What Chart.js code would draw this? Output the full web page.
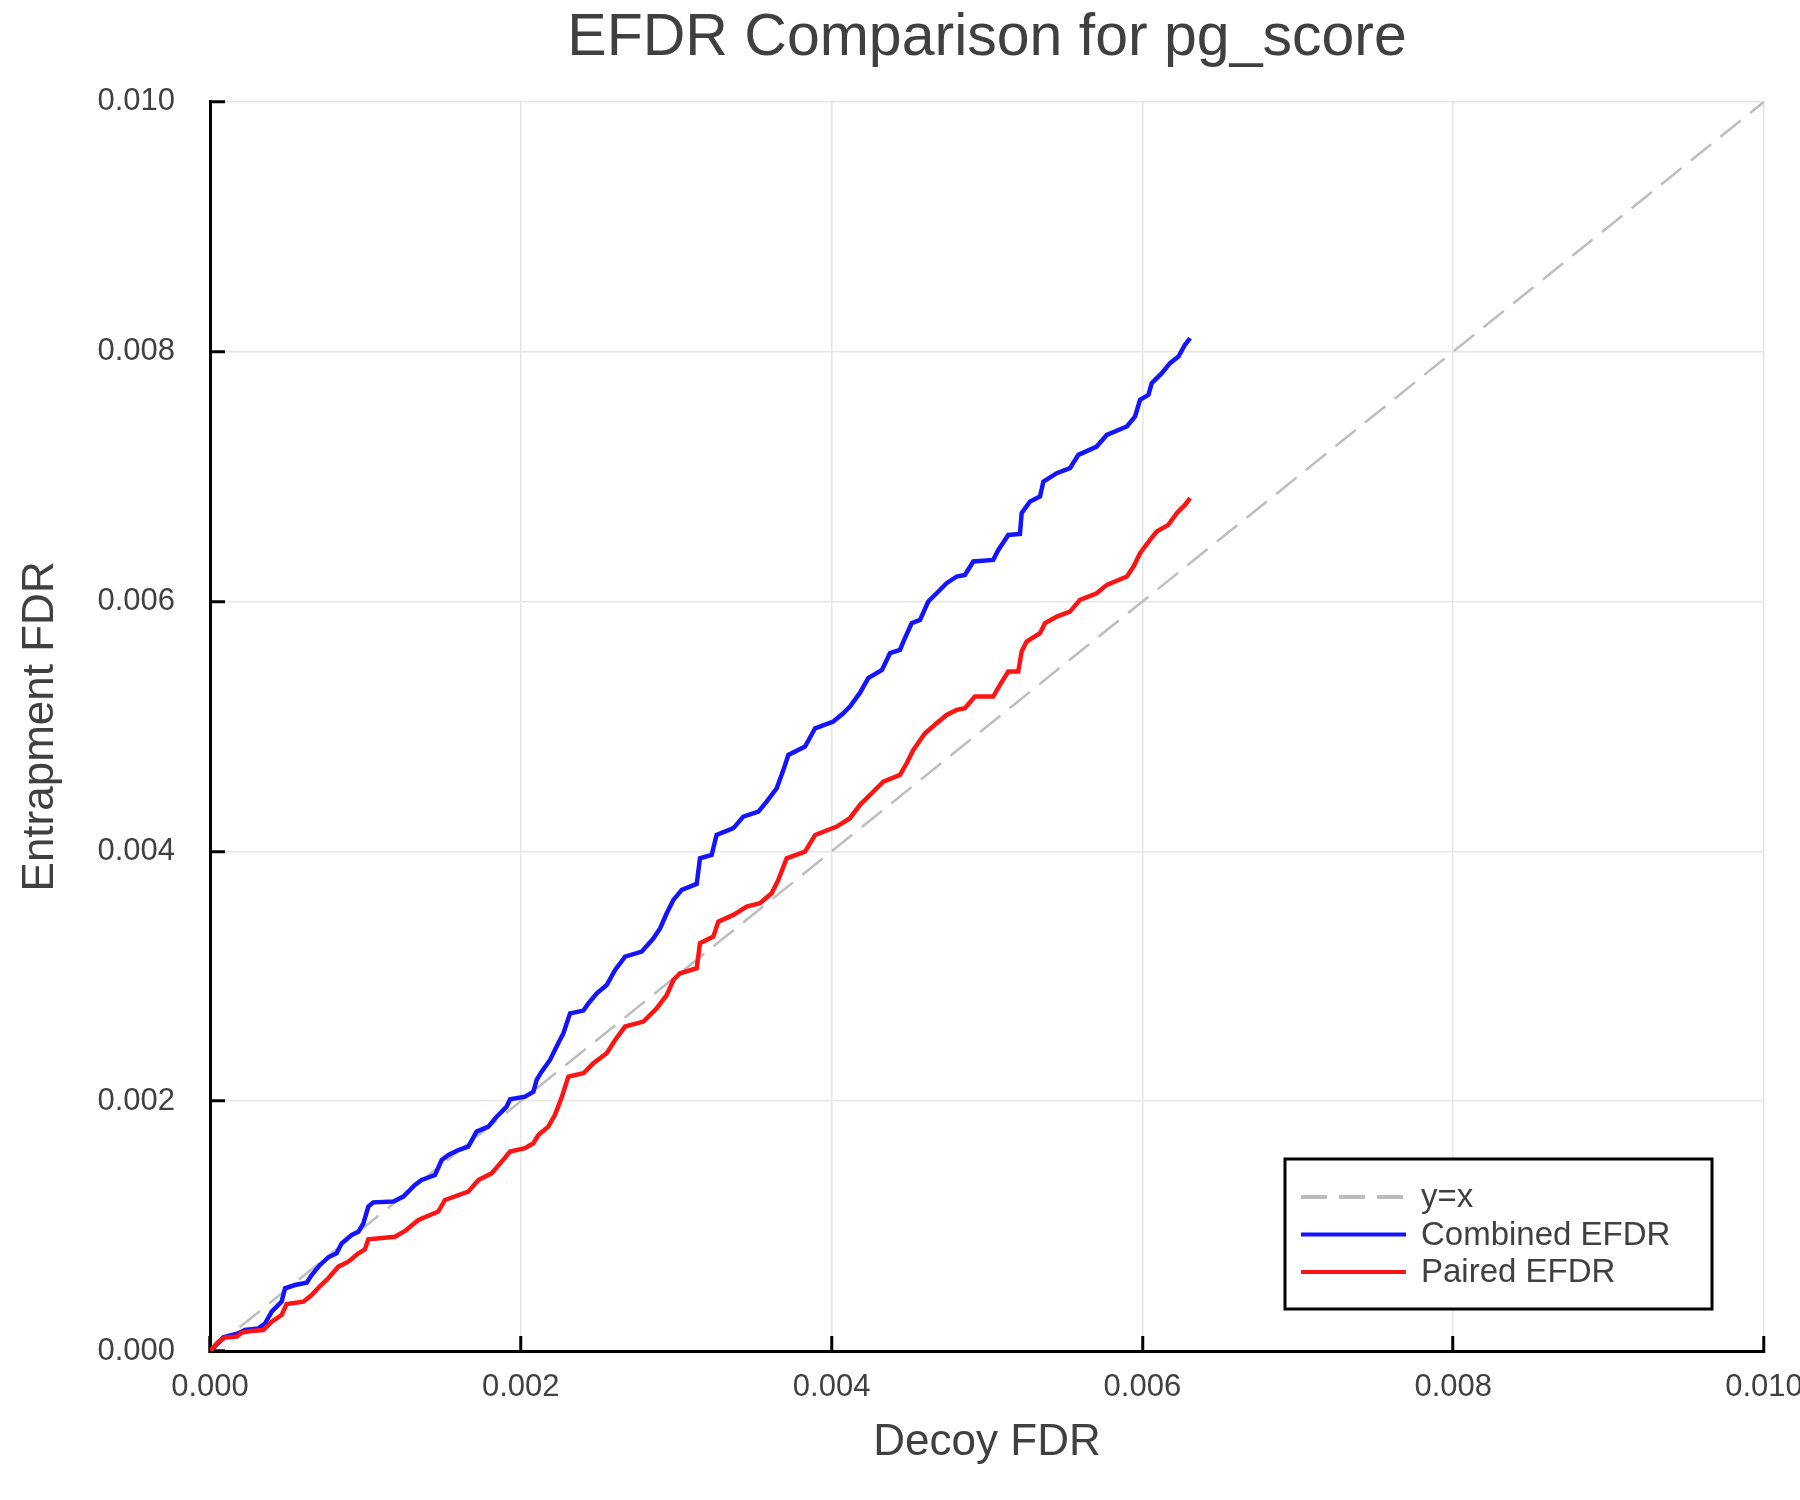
<!DOCTYPE html>
<html>
<head>
<meta charset="utf-8">
<title>EFDR Comparison for pg_score</title>
<script src="https://cdn.jsdelivr.net/npm/chart.js@4.4.1/dist/chart.umd.min.js"></script>
<style>
  html, body { margin: 0; padding: 0; background: #fff; }
  #wrap { width: 1800px; height: 1500px; }
</style>
</head>
<body>
<div id="wrap"><canvas id="efdrChart" width="1800" height="1500"></canvas></div>
<script>
// values
const combinedDecoyFdr = [
  0, 0.00001, 0.000086, 0.00018, 0.000225, 0.000311, 0.000354, 0.000397, 0.000461, 0.000483,
  0.000547, 0.000622, 0.000654, 0.000708, 0.000761, 0.000815, 0.000847, 0.000912, 0.000955, 0.000987,
  0.001019, 0.001051, 0.00118, 0.001244, 0.001319, 0.001362, 0.001448, 0.001491, 0.001534, 0.001598,
  0.001662, 0.001716, 0.001791, 0.001845, 0.001909, 0.001931, 0.002027, 0.002081, 0.002102, 0.002134,
  0.002188, 0.002241, 0.002274, 0.002317, 0.002403, 0.002436, 0.002489, 0.002553, 0.002607, 0.002671,
  0.002778, 0.002854, 0.002897, 0.002939, 0.002982, 0.003036, 0.003132, 0.003153, 0.003228, 0.00326,
  0.003368, 0.003432, 0.003529, 0.003582, 0.003647, 0.00369, 0.003722, 0.003829, 0.003894, 0.004011,
  0.004075, 0.004118, 0.004183, 0.004236, 0.004324, 0.004376, 0.00444, 0.004462, 0.004515, 0.004569,
  0.004622, 0.004676, 0.00474, 0.004805, 0.004858, 0.004912, 0.00504, 0.005073, 0.005137, 0.005212,
  0.005223, 0.005277, 0.005341, 0.005363, 0.005449, 0.005534, 0.005588, 0.005706, 0.005771, 0.0059,
  0.005953, 0.005985, 0.006039, 0.00606, 0.006125, 0.006178, 0.006232, 0.006274, 0.006307
];
const combinedEfdr = [
  0, 0.000008, 0.000109, 0.00014, 0.000168, 0.000181, 0.00022, 0.000315, 0.000395, 0.000502,
  0.000528, 0.000547, 0.000608, 0.000689, 0.00075, 0.000782, 0.000862, 0.000929, 0.000955, 0.001022,
  0.001156, 0.00119, 0.001196, 0.001236, 0.001329, 0.001369, 0.001409, 0.001529, 0.001569, 0.001609,
  0.001636, 0.001756, 0.001796, 0.001876, 0.001956, 0.002015, 0.002036, 0.002075, 0.00217, 0.002236,
  0.00233, 0.002463, 0.002543, 0.002703, 0.002725, 0.002784, 0.002864, 0.00293, 0.00305, 0.003157,
  0.003197, 0.003304, 0.003384, 0.003504, 0.003611, 0.003691, 0.003739, 0.003944, 0.003971, 0.004131,
  0.004185, 0.004278, 0.004318, 0.004398, 0.004505, 0.004652, 0.004772, 0.004839, 0.004985, 0.005039,
  0.005105, 0.005159, 0.00527, 0.005386, 0.005452, 0.005586, 0.005612, 0.005679, 0.005826, 0.005852,
  0.006, 0.006066, 0.006146, 0.0062, 0.006213, 0.00632, 0.006333, 0.006413, 0.006533, 0.006541,
  0.006707, 0.0068, 0.00684, 0.00696, 0.007027, 0.007067, 0.007174, 0.00724, 0.007334, 0.007401,
  0.007481, 0.007614, 0.007654, 0.007748, 0.007828, 0.007908, 0.007961, 0.008055, 0.008108
];
const pairedDecoyFdr = [
  0, 0.000054, 0.000097, 0.000172, 0.000204, 0.000268, 0.000343, 0.000397, 0.000461, 0.000493,
  0.000601, 0.000654, 0.000708, 0.000761, 0.000826, 0.00089, 0.000955, 0.000997, 0.001019, 0.00119,
  0.001255, 0.001341, 0.001469, 0.001512, 0.001662, 0.001727, 0.001812, 0.001877, 0.001931, 0.002027,
  0.002081, 0.002113, 0.002177, 0.00222, 0.002263, 0.002306, 0.002403, 0.002467, 0.002553, 0.002607,
  0.002671, 0.002789, 0.002875, 0.002939, 0.002982, 0.003025, 0.003132, 0.003153, 0.003239, 0.003271,
  0.003368, 0.003454, 0.003539, 0.003614, 0.003657, 0.003711, 0.003829, 0.003894, 0.004033, 0.004118,
  0.004183, 0.004258, 0.004333, 0.00444, 0.004483, 0.004526, 0.004601, 0.004676, 0.00474, 0.004805,
  0.004858, 0.004922, 0.00504, 0.005083, 0.005137, 0.005201, 0.005223, 0.005255, 0.005341, 0.005373,
  0.005449, 0.005534, 0.005598, 0.005706, 0.005771, 0.0059, 0.005943, 0.005985, 0.006049, 0.006092,
  0.006167, 0.006221, 0.006274, 0.006307
];
const pairedEfdr = [
  0, 0.000075, 0.000109, 0.000115, 0.000147, 0.00016, 0.000168, 0.000235, 0.000288, 0.000376,
  0.000395, 0.000448, 0.00052, 0.000582, 0.000675, 0.000715, 0.000782, 0.000814, 0.000894, 0.000915,
  0.000961, 0.001049, 0.001116, 0.001209, 0.001276, 0.001369, 0.001422, 0.001516, 0.001596, 0.001623,
  0.001663, 0.001729, 0.001796, 0.00189, 0.00203, 0.002196, 0.002223, 0.002303, 0.002383, 0.00249,
  0.002597, 0.002637, 0.002744, 0.00285, 0.00297, 0.003024, 0.003064, 0.003264, 0.003317, 0.003437,
  0.003491, 0.003558, 0.003584, 0.003664, 0.003771, 0.003944, 0.003998, 0.004131, 0.004198, 0.004265,
  0.004372, 0.004465, 0.004558, 0.004612, 0.004705, 0.004812, 0.004945, 0.005025, 0.005092, 0.005132,
  0.005145, 0.005239, 0.005239, 0.005332, 0.005439, 0.005439, 0.005599, 0.005679, 0.005746, 0.005826,
  0.005879, 0.005919, 0.006013, 0.006066, 0.006133, 0.0062, 0.00628, 0.006386, 0.006493, 0.00656,
  0.006613, 0.006707, 0.006773, 0.006827
];
const identityLine = [0, 0.01];
const axisTicks = [0, 0.002, 0.004, 0.006, 0.008, 0.01];

const textColor = "#404040";
const fontFamily = "'Liberation Sans', Arial, sans-serif";

function toPoints(xs, ys) {
  return xs.map((x, i) => ({ x: x, y: ys[i] }));
}

// legend drawn inside the plot, bottom right
const insideLegend = {
  id: "insideLegend",
  afterDraw(chart) {
    const { ctx, chartArea } = chart;
    const w = 427;
    const h = 150;
    const x0 = chartArea.right - 52 - w;
    const y0 = chartArea.bottom - 42 - h;
    ctx.save();
    ctx.fillStyle = "#ffffff";
    ctx.fillRect(x0, y0, w, h);
    ctx.lineWidth = 3;
    ctx.strokeStyle = "#000000";
    ctx.strokeRect(x0, y0, w, h);
    chart.data.datasets.forEach((ds, i) => {
      const y = y0 + 38 + i * 37.5;
      ctx.beginPath();
      ctx.setLineDash(ds.borderDash || []);
      ctx.strokeStyle = ds.borderColor;
      ctx.lineWidth = 4;
      ctx.moveTo(x0 + 16, y);
      ctx.lineTo(x0 + 121, y);
      ctx.stroke();
      ctx.setLineDash([]);
      ctx.fillStyle = textColor;
      ctx.font = "33px " + fontFamily;
      ctx.textBaseline = "middle";
      ctx.textAlign = "left";
      ctx.fillText(ds.label, x0 + 136, y + 1);
    });
    ctx.restore();
  },
};

function axisOptions(titleText, isX) {
  return {
    type: "linear",
    min: axisTicks[0],
    max: axisTicks[axisTicks.length - 1],
    afterBuildTicks: (scale) => {
      scale.ticks = axisTicks.map((v) => ({ value: v }));
    },
    afterFit: (scale) => {
      if (isX) {
        scale.height = 149;
        scale.paddingRight = 0;
        scale.paddingLeft = 0;
      } else {
        scale.width = 210;
        scale.paddingTop = 0;
        scale.paddingBottom = 0;
      }
    },
    border: { display: true, color: "#000000", width: 3 },
    grid: {
      color: "#e6e6e6",
      lineWidth: 1.5,
      tickColor: "#000000",
      tickWidth: 3,
      tickLength: -15,
    },
    ticks: {
      color: textColor,
      font: { family: fontFamily, size: 31 },
      padding: isX ? 33 : 50,
      maxRotation: 0,
      autoSkip: false,
      callback: (value) => Number(value).toFixed(3),
    },
    title: {
      display: true,
      text: titleText,
      color: textColor,
      font: { family: fontFamily, size: 44 },
      padding: isX ? { top: 0, bottom: 31 } : { top: 14, bottom: 0 },
    },
  };
}

new Chart(document.getElementById("efdrChart"), {
  type: "scatter",
  data: {
    datasets: [
      {
        label: "y=x",
        data: toPoints(identityLine, identityLine),
        showLine: true,
        borderColor: "#bdbdbd",
        borderWidth: 2.5,
        borderDash: [26, 12],
        pointRadius: 0,
        order: 3,
      },
      {
        label: "Combined EFDR",
        data: toPoints(combinedDecoyFdr, combinedEfdr),
        showLine: true,
        borderColor: "#1414ff",
        borderWidth: 4.5,
        pointRadius: 0,
        order: 2,
      },
      {
        label: "Paired EFDR",
        data: toPoints(pairedDecoyFdr, pairedEfdr),
        showLine: true,
        borderColor: "#ff1414",
        borderWidth: 4.5,
        pointRadius: 0,
        order: 1,
      },
    ],
  },
  options: {
    responsive: false,
    devicePixelRatio: 1,
    animation: false,
    layout: { padding: { left: 0, right: 36, top: 0, bottom: 0 } },
    plugins: {
      legend: { display: false },
      tooltip: { enabled: false },
      title: {
        display: true,
        fullSize: false,
        text: "EFDR Comparison for pg_score",
        color: textColor,
        font: { family: fontFamily, size: 59, weight: "normal" },
        padding: { top: 3, bottom: 28 },
      },
    },
    scales: {
      x: axisOptions("Decoy FDR", true),
      y: axisOptions("Entrapment FDR", false),
    },
  },
  plugins: [insideLegend],
});
</script>
</body>
</html>
